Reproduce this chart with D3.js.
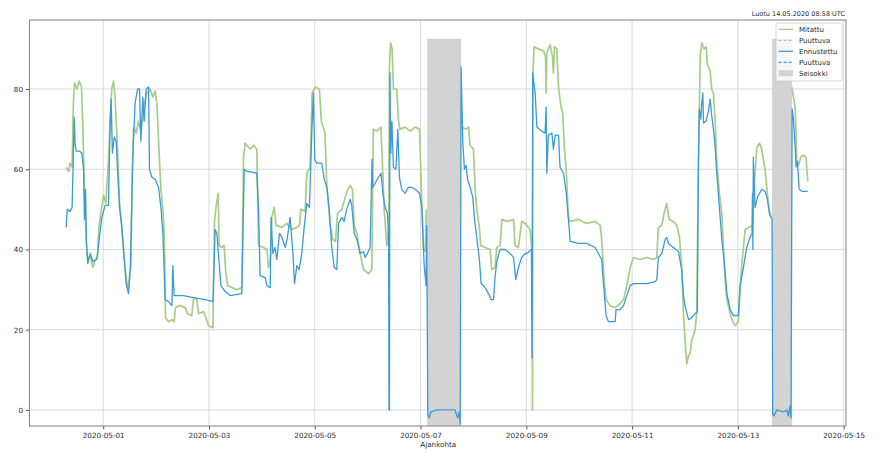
<!DOCTYPE html>
<html>
<head>
<meta charset="utf-8">
<script src="https://cdn.jsdelivr.net/npm/d3@7"></script>
<style>
  html, body { margin: 0; padding: 0; background: #fff; }
  svg { display: block; font-family: "DejaVu Sans", sans-serif; }
</style>
</head>
<body>
<svg id="chart" width="876" height="455"></svg>
<script>
// ---- data ----
// times are hours after 2020-04-29 00:00 UTC
const baseTime = "2020-04-29T00:00:00Z";

const mitattuHours = [
  31.2,32.3,33.0,33.9,34.5,35.0,36.1,37.1,38.2,38.8,39.5,40.3,40.9,42.1,43.3,44.4,45.4,46.0,46.9,48.2,
  49.2,50.4,51.2,51.9,52.7,53.4,53.9,54.5,55.4,56.5,57.5,58.4,59.3,59.9,60.6,61.2,61.8,63.0,64.0,64.8,
  65.5,66.6,67.8,69.3,70.5,71.6,72.4,73.3,74.2,75.1,75.7,76.3,77.6,79.2,80.2,80.8,82.9,85.2,86.3,88.2,
  89.0,90.5,91.3,93.5,94.3,95.8,97.8,98.5,99.3,100.2,100.6,101.8,102.9,103.5,104.4,106.4,108.6,110.9,111.7,112.4,
  114.7,116.2,117.7,118.5,120.7,122.3,123.0,123.8,124.5,125.6,126.5,129.1,131.3,133.6,135.9,137.1,137.7,139.6,140.4,141.9,
  142.8,144.2,146.1,147.0,148.6,149.5,151.0,152.2,153.4,154.3,156.3,158.6,160.1,161.1,161.9,163.1,164.6,166.1,168.4,169.9,
  170.6,172.2,174.0,174.6,175.5,176.7,177.6,177.9,178.4,179.1,179.7,181.2,182.0,182.7,185.0,187.3,189.6,191.5,192.4,193.3,
  194.1,194.7,195.0,210.7,212.7,213.8,214.5,216.0,216.8,217.5,218.6,219.3,221.3,223.6,224.3,225.8,226.6,228.1,228.9,231.1,
  234.2,234.9,236.4,237.9,239.5,241.7,242.5,242.8,243.0,243.5,245.5,247.8,248.7,249.0,249.3,250.8,251.9,252.3,252.8,253.8,
  254.6,255.6,256.5,257.3,258.1,259.1,259.9,263.7,267.4,271.2,273.5,274.2,275.3,276.2,278.0,280.3,282.6,284.1,285.6,287.1,
  288.6,291.6,294.7,297.7,299.2,299.9,301.5,302.5,303.7,304.8,306.7,308.3,309.5,310.5,311.3,312.0,312.8,313.6,314.3,315.1,
  316.6,317.3,318.1,318.9,319.6,320.7,321.6,322.2,323.4,324.1,324.9,325.7,326.4,327.6,328.7,329.4,330.2,331.0,332.5,333.7,
  334.7,336.2,337.0,337.8,339.3,340.8,342.7,343.4,344.6,345.8,346.8,348.3,349.9,350.9,351.3,360.4,361.2,362.0,362.7,363.5,
  364.5,365.7,366.9,367.7
];
const mitattuValues = [
  60.5,59.5,61.5,60.5,77,81.5,80,82,80.5,70,55,42,37.5,38.5,35.5,37.5,38,45,49,53.5,
  51.5,62,73,80,82,78,72,65,52,45,38,33,30,33,36,60,70.5,69,72,70,
  71,76,79,80,78,79.5,76,65,55,50,44,23,22,22.5,22,25.5,26,25.5,24,23.5,
  28,27.5,24,24.5,23.5,21,20.5,47,51,54,41,40.5,41,35,31,30.5,30,30.5,63,66.5,
  65,66,65,41,40.5,40,35.5,37,48,50.5,46,45.5,46.5,45,45.5,46,50,49.5,59,60.5,
  79,80.5,80,72,69,56,46,42.5,42,49,50,54.5,56,55,46,44,39,35,34,35,
  70,69.5,70.5,63,50,41,45,86,91.5,90,80,80,72,70,70.5,69.5,70.5,70,55,40,
  39.5,50,null,70.5,70,70.5,66,65,55,50,46,41,40.5,40,35,35.5,40.5,41,47.5,47,
  47.5,41,40.5,47,46.5,45,40,0,84,90.5,90,89.5,88,79,89,91,88,84,90.5,90,
  80.5,76,74,65,60,48,47,47.5,46.5,47,46,42.5,32,27.5,26,25.5,26.5,27.5,31,35.5,
  38,37.5,38,37.5,38,45.5,46,49,51.5,47.5,47,46,43,36,24,17.5,11.5,13.5,14,17.5,
  20,24,62,88,91.5,90,90.5,86,84.5,80,79,72,62,54,49,41,32.5,27.5,24,22,
  21,22,30.5,36.5,45,45.5,46,55.5,65.5,66.5,65,60,51,48,null,80.5,78,75.5,62,61,
  63,63.5,63,57
];

const ennusteHours = [
  31.2,31.7,33.0,33.9,34.4,34.8,35.3,35.8,37.3,38.3,39.1,39.5,40.0,40.4,41.0,42.1,43.3,45.1,46.3,47.4,
  48.9,50.4,51.2,51.6,52.2,53.0,53.9,54.5,55.4,56.5,57.5,58.4,59.5,60.3,61.5,62.5,63.6,64.5,65.1,66.0,
  66.6,67.5,68.6,69.0,70.1,71.6,73.1,74.2,75.1,76.1,77.6,79.2,79.6,80.2,84.4,89.0,94.3,97.8,98.8,99.6,
  100.3,101.4,103.4,105.6,110.9,112.0,113.2,117.7,118.5,119.2,121.5,122.3,123.8,124.2,125.0,126.0,126.8,128.0,129.1,130.6,
  131.6,132.8,134.1,134.8,135.9,136.9,138.1,139.2,140.4,141.6,142.7,143.4,144.0,144.9,147.2,148.3,149.5,150.7,151.7,152.8,
  154.0,154.8,156.3,157.3,158.5,160.1,160.8,161.9,163.1,164.6,166.1,166.9,167.9,169.1,170.0,170.3,171.4,172.9,174.1,174.9,
  175.9,177.0,177.5,177.7,177.9,178.1,178.5,179.0,179.7,180.8,181.7,182.4,183.5,185.0,186.5,188.0,189.6,191.5,192.6,193.6,
  194.5,194.8,195.3,195.9,196.7,199.4,203.9,207.7,208.5,208.9,209.5,210.0,210.4,211.2,211.9,212.7,213.3,214.5,215.7,216.5,
  217.5,218.7,219.5,221.3,222.8,224.0,225.1,225.8,226.6,228.1,230.4,232.6,234.2,235.2,236.4,237.9,239.5,240.2,242.3,242.6,
  242.9,244.0,244.8,247.0,248.5,249.0,249.3,250.0,251.6,252.3,253.1,254.6,255.3,256.9,258.1,259.1,259.9,263.7,267.4,271.2,
  272.7,274.2,275.0,276.2,277.3,280.3,280.7,282.6,284.1,285.6,287.1,288.6,294.7,298.4,299.2,299.9,301.5,303.0,303.7,304.5,
  306.7,309.0,310.5,311.3,312.0,313.6,315.1,316.6,317.6,318.1,318.5,319.2,319.6,320.1,320.4,321.6,322.6,323.4,324.1,324.9,
  325.7,326.4,327.6,328.7,329.7,331.0,332.5,334.0,336.2,337.0,338.5,340.0,341.5,342.4,342.6,342.8,343.0,343.8,344.9,346.8,
  348.3,349.4,350.3,351.5,351.8,352.4,353.6,356.7,358.2,358.9,359.7,360.1,360.6,361.2,362.0,362.4,363.0,363.8,365.0,366.5,
  367.7
];
const ennusteValues = [
  45.5,50,49.5,50.5,62,73,66,64.5,64.5,64,60,47.5,55,42,36.5,39,37,37.5,43,48,
  51,51,72,77.5,64,68,67,60,50.5,45.5,38,31.5,29,35.5,64,76.5,80,80,67,78,
  72,80,80.5,60,58,57.5,55.5,50.5,44,27.5,27,26,36,28.5,28.5,28,27.5,27,45,44,
  39,31,29.5,28.5,29,60,59.5,59,50,33.5,33,31,30.5,48,39,40.5,37.5,44,43,40.5,
  43,48,39,31.5,36,35,39,45.5,51.5,50.5,70,79,62.5,61.5,61.5,57.5,55.5,49,40.5,35.5,
  35,46.5,48,47,50,52.5,51,44,42.5,39,39.5,38,39,40.5,62.5,55.5,56.5,58,59,54,
  50.5,49,43,0,0,84,64,72,60.5,60,70,58,55,54,55.5,55.5,55,54,50.5,36.5,
  31,46,-1,-2,-0.5,0,0,0,-1.5,-2,-0.5,-3.5,85.5,66.5,60,61,57.5,55.5,53,47.5,
  43,37.5,31.5,30.5,29,27.5,27.5,33,37,40,40,39,38,32.5,35.5,38,39,39,40,13,
  84,79,70.5,69.5,69,75.5,59,68.5,69,65,68.5,68.5,60.5,59,54,47.5,42,41.5,41.5,40.5,
  39,37.5,31.5,23.5,22,22,25,25,26,28.5,31,31.5,31.5,32,32.5,38,39,42.5,43,41.5,
  40.5,39.5,35,28.5,26,22.5,23,24,24.5,62,75,72.5,76.5,79,71.5,72,74.5,77.5,73.5,70,
  65.5,59,50.5,42.5,37.5,29,25,23.5,23.5,31,35.5,40.5,43,44,54,40,63,50.5,53,55,
  54.5,52.5,49,47.5,-1,-1.5,0,-0.5,0,-1.5,1,-2,75,72.5,65.5,60.5,62,55,54.5,54.5,
  54.5
];

// downtime (Seisokki) periods, hours after base time, and their vertical extent
const seisokkiStart = [195.0, 351.5];
const seisokkiEnd = [210.4, 360.6];
const seisokkiRange = [-4, 92.5];

const xTickLabels = ["2020-05-01","2020-05-03","2020-05-05","2020-05-07","2020-05-09","2020-05-11","2020-05-13","2020-05-15"];
const yTickValues = [0, 20, 40, 60, 80];
const legendLabels = ["Mitattu", "Puuttuva", "Ennustettu", "Puuttuva", "Seisokki"];
const xAxisTitle = "Ajankohta";
const createdText = "Luotu 14.05.2020 08:58 UTC";

// ---- drawing ----
const GREEN = "#a7cd89", BLUE = "#3b9bd4", SHADE = "#d3d3d3", FONT = 7.2;
const base = new Date(baseTime).getTime();
const toDate = h => new Date(base + h * 3600e3);

const svg = d3.select("#chart");
const plot = { left: 29.5, right: 846, top: 20, bottom: 426 };

const x = d3.scaleUtc()
  .domain([new Date("2020-04-29T14:34:00Z"), new Date("2020-05-15T01:03:00Z")])
  .range([plot.left, plot.right]);
const y = d3.scaleLinear().domain([-4, 97.2]).range([plot.bottom, plot.top]);

const xTicks = xTickLabels.map(s => new Date(s + "T00:00:00Z"));

// grid
const grid = svg.append("g");
grid.selectAll("line.gx").data(xTicks).join("line")
  .attr("x1", d => x(d)).attr("x2", d => x(d))
  .attr("y1", plot.top).attr("y2", plot.bottom)
  .attr("stroke", "#dadada").attr("stroke-width", 1);
grid.selectAll("line.gy").data(yTickValues).join("line")
  .attr("x1", plot.left).attr("x2", plot.right)
  .attr("y1", d => y(d)).attr("y2", d => y(d))
  .attr("stroke", "#dadada").attr("stroke-width", 1);

// downtime shading
svg.append("g").selectAll("rect").data(seisokkiStart.map((s, i) => [s, seisokkiEnd[i]])).join("rect")
  .attr("x", d => x(toDate(d[0])))
  .attr("width", d => x(toDate(d[1])) - x(toDate(d[0])))
  .attr("y", y(seisokkiRange[1]))
  .attr("height", y(seisokkiRange[0]) - y(seisokkiRange[1]))
  .attr("fill", SHADE);

// lines
svg.append("clipPath").attr("id", "clip").append("rect")
  .attr("x", plot.left).attr("y", plot.top)
  .attr("width", plot.right - plot.left).attr("height", plot.bottom - plot.top);

const line = d3.line()
  .defined(d => d[1] !== null)
  .x(d => x(toDate(d[0]))).y(d => y(d[1]));

svg.append("path")
  .datum(mitattuHours.map((h, i) => [h, mitattuValues[i]]))
  .attr("d", line).attr("fill", "none")
  .attr("stroke", GREEN).attr("stroke-width", 1.7).attr("stroke-linejoin", "round")
  .attr("clip-path", "url(#clip)");
svg.append("path")
  .datum(ennusteHours.map((h, i) => [h, ennusteValues[i]]))
  .attr("d", line).attr("fill", "none")
  .attr("stroke", BLUE).attr("stroke-width", 1.3).attr("stroke-linejoin", "round")
  .attr("clip-path", "url(#clip)");

// axes
const xAxis = svg.append("g").attr("transform", `translate(0,${plot.bottom})`)
  .call(d3.axisBottom(x).tickValues(xTicks).tickFormat(d3.utcFormat("%Y-%m-%d")).tickSize(3.5).tickPadding(3));
const yAxis = svg.append("g").attr("transform", `translate(${plot.left},0)`)
  .call(d3.axisLeft(y).tickValues(yTickValues).tickSize(3.5).tickPadding(3));
[xAxis, yAxis].forEach(a => {
  a.select(".domain").remove();
  a.selectAll("line").attr("stroke", "#555");
  a.selectAll("text").attr("fill", "#2a2a2a").style("font-size", FONT + "px").style("font-family", "DejaVu Sans");
});

// frame
svg.append("rect")
  .attr("x", plot.left).attr("y", plot.top)
  .attr("width", plot.right - plot.left).attr("height", plot.bottom - plot.top)
  .attr("fill", "none").attr("stroke", "#8a8a8a").attr("stroke-width", 1.1);

// axis title
svg.append("text").attr("x", (plot.left + plot.right) / 2 + 0.5).attr("y", 447)
  .attr("text-anchor", "middle").attr("fill", "#2a2a2a")
  .style("font-size", FONT + "px").text(xAxisTitle);

// created text
svg.append("text").attr("x", 845).attr("y", 15.5)
  .attr("text-anchor", "end").attr("fill", "#2a2a2a")
  .style("font-size", "6.5px").text(createdText);

// legend
const lg = svg.append("g").attr("transform", "translate(776,23)");
lg.append("rect").attr("width", 66).attr("height", 58).attr("rx", 2)
  .attr("fill", "white").attr("fill-opacity", 0.8).attr("stroke", "#cccccc").attr("stroke-width", 0.8);
const legendStyles = [
  { type: "line", color: GREEN, dash: null },
  { type: "line", color: GREEN, dash: "3,2" },
  { type: "line", color: BLUE, dash: null },
  { type: "line", color: BLUE, dash: "3,2" },
  { type: "rect", color: SHADE }
];
legendLabels.forEach((lab, i) => {
  const yy = 6.3 + i * 11;
  const st = legendStyles[i];
  if (st.type === "line") {
    lg.append("line").attr("x1", 2.5).attr("x2", 17).attr("y1", yy).attr("y2", yy)
      .attr("stroke", st.color).attr("stroke-width", 1.3)
      .attr("stroke-dasharray", st.dash);
  } else {
    lg.append("rect").attr("x", 2.5).attr("y", yy - 3).attr("width", 14.5).attr("height", 6).attr("fill", st.color);
  }
  lg.append("text").attr("x", 23).attr("y", yy + 2.6).attr("fill", "#2a2a2a")
    .style("font-size", "7px").text(lab);
});
</script>
</body>
</html>
